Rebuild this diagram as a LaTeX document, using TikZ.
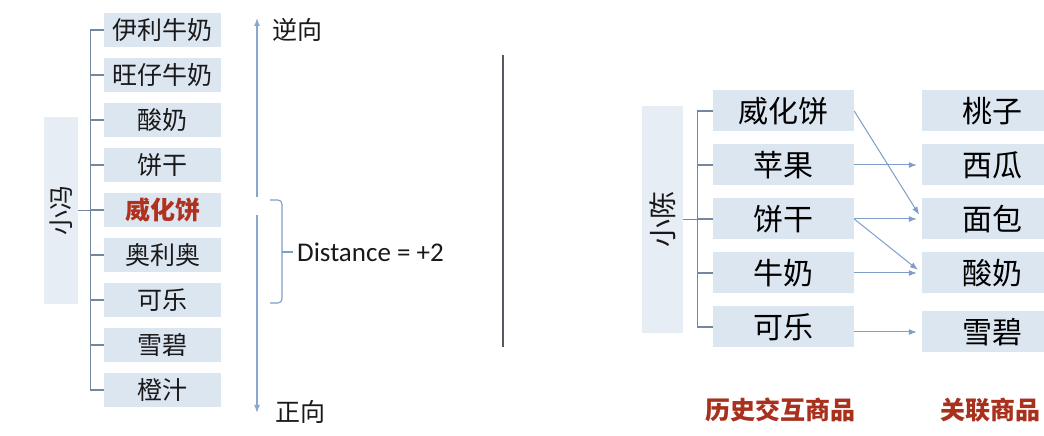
\documentclass[tikz,border=0pt]{standalone}
\usepackage{fontspec}
\setmainfont{Noto Sans CJK SC}
\newfontfamily\latinfont{Carlito}
\usetikzlibrary{arrows.meta,positioning,calc}

\definecolor{boxfill}{HTML}{DCE6F1}
\definecolor{namefill}{HTML}{E6EDF5}
\definecolor{linkblue}{HTML}{7F9DC9}
\definecolor{axisblue}{HTML}{8AA6CF}
\definecolor{brackgray}{HTML}{7487A0}
\definecolor{sepgray}{HTML}{555A62}
\definecolor{hotred}{HTML}{B0321E}
\definecolor{titlered}{HTML}{A8301C}

\begin{document}
\begin{tikzpicture}[x=1pt,y=1pt,node distance=45pt,
  >={Latex[length=8pt,width=6pt]},
  item node/.style={fill=boxfill,minimum width=117pt,minimum height=34pt,inner sep=0pt,
    text=black!90,font=\fontsize{25pt}{25pt}\selectfont},
  big node/.style={fill=boxfill,minimum width=141pt,minimum height=41pt,inner sep=0pt,
    text=black,font=\fontsize{30pt}{30pt}\selectfont},
  user node/.style={fill=namefill,rotate=90,inner sep=0pt,text=black!90},
  dir node/.style={font=\fontsize{25pt}{25pt}\selectfont,text=black!90},
  title node/.style={text=titlered,font=\bfseries\fontsize{25pt}{25pt}\selectfont},
  bracket line/.style={draw=brackgray,line width=1.2pt},
  axis arrow/.style={->,draw=axisblue,line width=1.4pt},
  rel arrow/.style={->,draw=linkblue,line width=1pt,shorten >=5pt}]
  \useasboundingbox (0,0) rectangle (1044,436);
  \clip (0,0) rectangle (1044,436);

  % 小冯 sequence
  \node[user node,minimum width=187pt,minimum height=34pt,font=\fontsize{25pt}{25pt}\selectfont] (xf) at (61,225.5) {小冯};
  \node[item node] (i1) at (162.5,406) {伊利牛奶};
  \node[item node] (i2) [below of=i1] {旺仔牛奶};
  \node[item node] (i3) [below of=i2] {酸奶};
  \node[item node] (i4) [below of=i3] {饼干};
  \node[item node,text=hotred,font=\bfseries\fontsize{25pt}{25pt}\selectfont] (i5) [below of=i4] {威化饼};
  \node[item node] (i6) [below of=i5] {奥利奥};
  \node[item node] (i7) [below of=i6] {可乐};
  \node[item node] (i8) [below of=i7] {雪碧};
  \node[item node] (i9) [below of=i8] {橙汁};
  \draw[bracket line] (xf.south) -- ++(13,0);
  \draw[bracket line] (i1.west) -- ++(-13,0) |- (i9.west);
  \foreach \k in {2,...,8}
    \draw[bracket line] (i\k.west) -- ++(-13,0);

  % directions
  \coordinate (gap top) at (257,239);
  \coordinate (gap bot) at (257,221);
  \coordinate (up end) at (257,418);
  \coordinate (down end) at (257,23);
  \node[dir node] (back) at (297,406) {逆向};
  \node[dir node] (fwd) at (300,24) {正向};
  \draw[axis arrow] (gap top) -- (up end);
  \draw[axis arrow] (gap bot) -- (down end);

  % distance bracket
  \node[anchor=west,inner sep=4pt,text=black!90,font=\latinfont\fontsize{27pt}{27pt}\selectfont] (dist) at (293,184) {Distance = +2};
  \coordinate (br mid) at (282,184);
  \draw[draw=linkblue,line width=1.1pt,rounded corners=4pt] (270,236) -- (282,236) -- (282,133) -- (270,133);
  \draw[draw=linkblue,line width=1.1pt] (br mid) -- (dist.west);

  % separator
  \draw[draw=sepgray,line width=1.5pt] (503,381) -- (503,89);

  % 小陈 relations
  \node[user node,minimum width=227pt,minimum height=41pt,font=\fontsize{28pt}{28pt}\selectfont] (xc) at (662.5,216.5) {小陈};
  \begin{scope}[node distance=54pt]
    \node[big node] (m1) at (783.5,325) {威化饼};
    \node[big node] (m2) [below of=m1] {苹果};
    \node[big node] (m3) [below of=m2] {饼干};
    \node[big node] (m4) [below of=m3] {牛奶};
    \node[big node] (m5) [below of=m4] {可乐};
    \node[big node] (r1) at (992.5,325) {桃子};
    \node[big node] (r2) [below of=r1] {西瓜};
    \node[big node] (r3) [below of=r2] {面包};
    \node[big node] (r4) [below of=r3] {酸奶};
    \node[big node] (r5) [below of=r4,node distance=59pt] {雪碧};
  \end{scope}
  \draw[bracket line] (xc.south) -- ++(15,0);
  \draw[bracket line] (m1.west) -- ++(-15,0) |- (m5.west);
  \foreach \k in {2,3,4}
    \draw[bracket line] (m\k.west) -- ++(-15,0);
  \draw[rel arrow] (m1.east) -- (r3.west);
  \draw[rel arrow] (m2.east) -- (r2.west);
  \draw[rel arrow] (m3.east) -- (r3.west);
  \draw[rel arrow] (m3.east) -- (r4.west);
  \draw[rel arrow] (m4.east) -- (r4.west);
  \draw[rel arrow] (r5.west -| m5.east) -- (r5.west);

  \node[title node] (hist) at (780,26) {历史交互商品};
  \node[title node] (rel) at (990,26) {关联商品};
\end{tikzpicture}
\end{document}
